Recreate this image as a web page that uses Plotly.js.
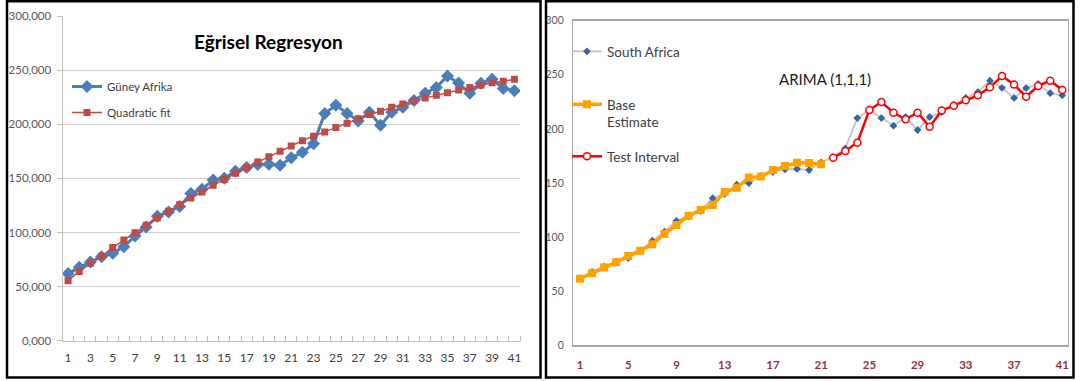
<!DOCTYPE html>
<html>
<head>
<meta charset="utf-8">
<script src="https://cdn.plot.ly/plotly-3.0.1.min.js"></script>
<style>html,body{margin:0;padding:0;background:#fff;}#chart{width:1080px;height:381px;}</style>
</head>
<body>
<div id="chart"></div>
<script>
const periods = [1,2,3,4,5,6,7,8,9,10,11,12,13,14,15,16,17,18,19,20,21,22,23,24,25,26,27,28,29,30,31,32,33,34,35,36,37,38,39,40,41];
const guneyAfrika = [62000,67800,72700,77600,80700,86900,96700,105000,115000,119000,124000,136000,140000,148500,150000,156500,160000,162700,163000,162000,169000,174000,182000,210000,217500,210000,203000,211000,199000,211000,215600,222000,228600,234000,244600,238000,228600,237800,241500,233000,231000];
const quadraticFit = [55500,64000,71500,78000,86000,93000,99800,106600,113400,119500,125700,131900,137400,143600,149000,154700,160000,165000,170000,175000,180000,184800,189000,192900,197000,200900,205000,208900,212000,215600,218700,221800,224300,226700,229000,231700,234000,236000,238400,239700,241500];
const southAfrica = [62,67.8,72.7,77.6,80.7,86.9,96.7,105,115,119,124,136,140,148.5,150,156.5,160,162.7,163,162,169,174,182,210,217.5,210,203,211,199,211,215.6,222,228.6,234,244.6,238,228.6,237.8,241.5,233,231];
const basePeriods = [1,2,3,4,5,6,7,8,9,10,11,12,13,14,15,16,17,18,19,20,21];
const baseEstimate = [61.6,66.5,71.8,76.7,82.6,87.5,93.3,102.9,111.2,119.8,125,129.7,141.7,145.7,155,155.9,162,165.7,168.8,168.5,167.3];
const testPeriods = [22,23,24,25,26,27,28,29,30,31,32,33,34,35,36,37,38,39,40,41];
const testInterval = [173.4,179.6,187.3,217.5,224.9,215,208.9,215,202,216.9,221.5,226.4,231,238.4,248.9,241,229.8,239.7,244.6,236];
const leftYTicks = [0,50000,100000,150000,200000,250000,300000];
const leftYLabels = ['0,000','50,000','100,000','150,000','200,000','250,000','300,000'];
const leftXTicks = [1,3,5,7,9,11,13,15,17,19,21,23,25,27,29,31,33,35,37,39,41];
const rightYTicks = [0,50,100,150,200,250,300];
const rightXTicks = [1,5,9,13,17,21,25,29,33,37,41];

const FONT = 'Lato, "Liberation Sans", Arial, sans-serif';
const W = 1080, H = 381;
const px = v => v / W;
const py = v => 1 - v / H;

const traces = [
  {x: periods, y: guneyAfrika, name: 'Güney Afrika', type: 'scatter', mode: 'lines+markers',
   xaxis: 'x', yaxis: 'y', legend: 'legend', legendgroup: 'a',
   line: {color: '#4A7EBB', width: 3}, marker: {symbol: 'diamond', size: 10, color: '#4A7EBB'}},
  {x: periods, y: quadraticFit, name: 'Quadratic fit', type: 'scatter', mode: 'lines+markers',
   xaxis: 'x', yaxis: 'y', legend: 'legend', legendgroup: 'b',
   line: {color: '#BE4B48', width: 1.5}, marker: {symbol: 'square', size: 7, color: '#BE4B48'}},
  {x: periods, y: southAfrica, name: 'South Africa', type: 'scatter', mode: 'lines+markers',
   xaxis: 'x2', yaxis: 'y2', legend: 'legend2',
   line: {color: '#C8C8C8', width: 2}, marker: {symbol: 'diamond', size: 6, color: '#3566A8'}},
  {x: basePeriods, y: baseEstimate, name: 'Base<br>Estimate', type: 'scatter', mode: 'lines+markers',
   xaxis: 'x2', yaxis: 'y2', legend: 'legend3',
   line: {color: '#FFA200', width: 3.5}, marker: {symbol: 'square', size: 8, color: '#FFA200'}},
  {x: testPeriods, y: testInterval, name: 'Test Interval', type: 'scatter', mode: 'lines+markers',
   xaxis: 'x2', yaxis: 'y2', legend: 'legend4',
   line: {color: '#FF0000', width: 2.5}, marker: {symbol: 'circle', size: 7, color: '#FFFFFF', line: {color: '#FF0000', width: 1.5}}}
];

const layout = {
  width: W, height: H,
  margin: {l: 0, r: 0, t: 0, b: 0},
  paper_bgcolor: '#FFFFFF', plot_bgcolor: '#FFFFFF',
  font: {family: FONT, color: '#404040'},
  showlegend: true,
  xaxis: {
    anchor: 'y', domain: [px(62.5), px(520)], range: [0.5, 41.5],
    tickvals: leftXTicks, ticks: '', showgrid: false, zeroline: false,
    showline: true, linecolor: '#BFBFBF', linewidth: 1,
    minor: {tick0: 0.5, dtick: 1, ticks: 'inside', ticklen: 5, tickcolor: '#BFBFBF', showgrid: false},
    tickfont: {size: 12, color: '#404040', family: FONT}, ticklabelstandoff: 6
  },
  yaxis: {
    anchor: 'x', domain: [py(340.7), py(16)], range: [0, 300000],
    tickvals: leftYTicks, ticktext: leftYLabels, ticks: 'outside', ticklen: 5, tickcolor: '#BFBFBF',
    showgrid: true, gridcolor: '#D0D0D0', gridwidth: 1, zeroline: false,
    showline: true, linecolor: '#BFBFBF', linewidth: 1,
    tickfont: {size: 11.5, color: '#595959', family: FONT}, ticklabelstandoff: 3
  },
  xaxis2: {
    anchor: 'y2', domain: [px(573.4), px(1067.7)], range: [0.45, 41.45],
    tickvals: rightXTicks, ticks: '', showgrid: false, zeroline: false,
    showline: true, mirror: true, linecolor: '#A6A6A6', linewidth: 1.5,
    tickfont: {size: 11.5, color: '#993333', family: FONT, weight: 'bold'}, ticklabelstandoff: 8
  },
  yaxis2: {
    anchor: 'x2', domain: [py(345.3), py(20.7)], range: [0, 300],
    tickvals: rightYTicks, ticks: '', showgrid: false, zeroline: false,
    showline: true, mirror: true, linecolor: '#A6A6A6', linewidth: 1.5,
    tickfont: {size: 10.5, color: '#595959', family: FONT}, ticklabelstandoff: 6
  },
  legend: {x: px(67), y: py(72), xanchor: 'left', yanchor: 'top', bgcolor: 'rgba(0,0,0,0)',
    font: {size: 11.5, color: '#404040', family: FONT}, tracegroupgap: 7},
  legend2: {x: px(567), y: py(36), xanchor: 'left', yanchor: 'top', bgcolor: 'rgba(0,0,0,0)',
    font: {size: 13.5, color: '#404040', family: FONT}},
  legend3: {x: px(567), y: py(89), xanchor: 'left', yanchor: 'top', bgcolor: 'rgba(0,0,0,0)', valign: 'top',
    font: {size: 13.5, color: '#404040', family: FONT}},
  legend4: {x: px(567), y: py(141), xanchor: 'left', yanchor: 'top', bgcolor: 'rgba(0,0,0,0)',
    font: {size: 13.5, color: '#404040', family: FONT}},
  annotations: [
    {text: '<b>Eğrisel Regresyon</b>', xref: 'paper', yref: 'paper', x: px(268.5), y: py(41.7),
     xanchor: 'center', yanchor: 'middle', showarrow: false, font: {size: 19, color: '#000000', family: FONT}},
    {text: 'ARIMA (1,1,1)', xref: 'paper', yref: 'paper', x: px(825), y: py(79),
     xanchor: 'center', yanchor: 'middle', showarrow: false, font: {size: 15, color: '#1A1A1A', family: FONT}}
  ],
  shapes: [
    {type: 'rect', xref: 'paper', yref: 'paper', x0: px(7), x1: px(540.5), y0: py(377.5), y1: py(1.2),
     line: {color: '#000000', width: 2.5}, fillcolor: 'rgba(0,0,0,0)'},
    {type: 'rect', xref: 'paper', yref: 'paper', x0: px(546), x1: px(1073.5), y0: py(377.5), y1: py(1.2),
     line: {color: '#000000', width: 2.5}, fillcolor: 'rgba(0,0,0,0)'}
  ]
};

Plotly.newPlot('chart', traces, layout, {staticPlot: true, displayModeBar: false});
</script>
</body>
</html>
